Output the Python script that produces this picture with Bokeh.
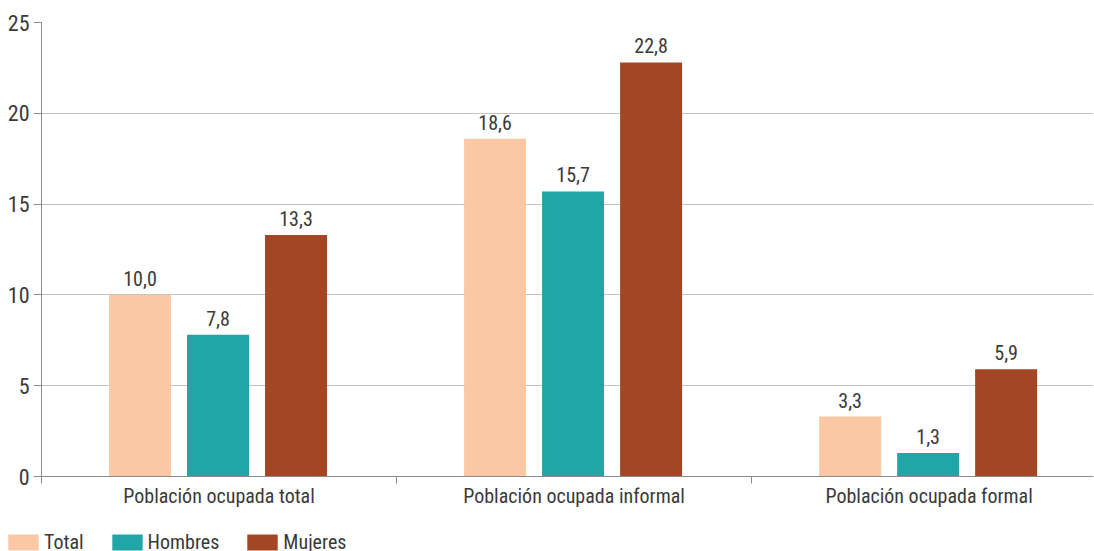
from bokeh.plotting import figure
from bokeh.layouts import column
from bokeh.models import Range1d, FixedTicker, Legend, LegendItem, ColumnDataSource, LabelSet
from bokeh.core.properties import value
from bokeh.embed import file_html
from bokeh.resources import INLINE

categories = ["Población ocupada total", "Población ocupada informal", "Población ocupada formal"]
series = ["Total", "Hombres", "Mujeres"]
total = [10.0, 18.6, 3.3]
hombres = [7.8, 15.7, 1.3]
mujeres = [13.3, 22.8, 5.9]
colors = ["#FBC8A5", "#21A5A6", "#A34623"]
y_ticks = [0, 5, 10, 15, 20, 25]

FONT = "'Liberation Sans Narrow', 'Roboto Condensed', Roboto, sans-serif"
TXT = "#3a3a3a"

p = figure(width=1094, height=531, output_backend="svg", toolbar_location=None,
           x_range=Range1d(0, 2.963), y_range=Range1d(0, 25),
           min_border_left=41, min_border_right=1, min_border_top=22, min_border_bottom=55)
p.outline_line_color = None
p.background_fill_color = "white"
p.frame_align = False

offsets = [-0.2225, -0.0028, 0.2169]
width = 0.1746
for s, vals, off, c in zip(series, [total, hombres, mujeres], offsets, colors):
    xs = [i + 0.5 + off for i in range(len(categories))]
    src = ColumnDataSource(dict(x=xs, top=vals, lab=[f"{v:.1f}".replace(".", ",") for v in vals]))
    p.vbar(x="x", top="top", width=width, bottom=0, source=src, fill_color=c, line_color=None)
    p.add_layout(LabelSet(x="x", y="top", text="lab", source=src, text_align="center",
                          text_baseline="alphabetic", y_offset=9, text_font=value(FONT),
                          text_font_size="20px", text_color=TXT))

# axes
p.xaxis.ticker = FixedTicker(ticks=[i + 0.5 for i in range(len(categories))],
                             minor_ticks=list(range(len(categories) + 1)))
p.xaxis.major_label_overrides = {i + 0.5: c for i, c in enumerate(categories)}
p.xaxis.major_tick_line_color = None
p.xaxis.minor_tick_out = 7
p.xaxis.minor_tick_in = 0
p.xaxis.minor_tick_line_color = "#8c8c8c"
p.xaxis.axis_line_color = "#8c8c8c"
p.xaxis.major_label_standoff = 0
p.xaxis.major_label_text_font = FONT
p.xaxis.major_label_text_font_size = "20px"
p.xaxis.major_label_text_color = TXT

p.yaxis.ticker = FixedTicker(ticks=y_ticks)
p.yaxis.major_tick_out = 8
p.yaxis.major_tick_in = 0
p.yaxis.minor_tick_line_color = None
p.yaxis.major_tick_line_color = "#8c8c8c"
p.yaxis.axis_line_color = "#8c8c8c"
p.yaxis.major_label_standoff = 4
p.yaxis.major_label_text_font = FONT
p.yaxis.major_label_text_font_size = "22px"
p.yaxis.major_label_text_color = TXT

p.xgrid.grid_line_color = None
p.ygrid.grid_line_color = "#c4c4c4"
p.ygrid.grid_line_width = 1

# legend strip below the chart
lf = figure(width=420, height=20, output_backend="svg", toolbar_location=None,
            x_axis_type=None, y_axis_type=None, x_range=Range1d(0, 1), y_range=Range1d(0, 1),
            min_border=0, min_border_left=0, min_border_right=0, min_border_top=0, min_border_bottom=0)
lf.outline_line_color = None
lf.frame_align = False
lrs = [lf.vbar(x=[-5], top=[-5], bottom=[-6], width=0.1, fill_color=c, line_color=None)
       for c in colors]
legend = Legend(items=[LegendItem(label=s, renderers=[r]) for s, r in zip(series, lrs)],
                location=(4, -3), orientation="horizontal",
                glyph_width=38, glyph_height=20, label_standoff=2, spacing=24,
                padding=0, margin=0, border_line_color=None, background_fill_alpha=0,
                label_text_font=FONT, label_text_font_size="20px", label_text_color=TXT)
lf.add_layout(legend, "center")

open("out.html", "w").write(file_html(column(p, lf, spacing=0), INLINE))
